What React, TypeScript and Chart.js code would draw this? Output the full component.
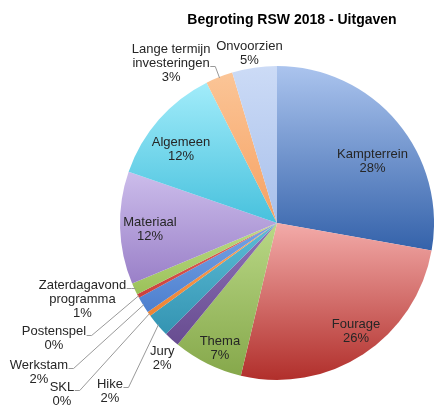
import React, { useEffect, useRef } from "react";
import { Chart, registerables } from "chart.js";

Chart.register(...registerables);

// ---- data ----
const chartTitle = "Begroting RSW 2018 - Uitgaven";
const categories = [
  "Kampterrein",
  "Fourage",
  "Thema",
  "Jury",
  "Hike",
  "SKL",
  "Werkstam",
  "Postenspel",
  "Zaterdagavond programma",
  "Materiaal",
  "Algemeen",
  "Lange termijn investeringen",
  "Onvoorzien",
];
const values = [27.8, 25.9, 7.2, 1.6, 2.45, 0.45, 1.7, 0.4, 1.2, 11.6, 12.3, 2.8, 4.6];

// ---- styles ----
const fillTop = [
  "#abc4ee", "#f3aba9", "#b9d886", "#8f73b8", "#5dbdd7", "#f9a35e", "#77a4e6",
  "#e46a66", "#bcdb86", "#ccbdeb", "#a2ecfa", "#fbc597", "#ccdbf6",
];
const fillBottom = [
  "#3462aa", "#b12f2b", "#86a84b", "#674c90", "#3494b2", "#ee8433", "#4d7fce",
  "#cb3f3b", "#9bc159", "#9a80c8", "#47c1dd", "#f6a162", "#a8c0eb",
];
// label placement: angle (deg, clockwise from 12 o'clock) and radius fraction
const labelAngle = [57.0, 144.0, 204.5, 220.3, 224.8, 231.5, 237.9, 242.6, 248.6, 267.1, 307.55, 326.5, 350.8];
const labelRadius = [0.725, 0.856, 0.877, 1.13, 1.51, 1.75, 1.79, 1.6, 1.331, 0.81, 0.771, 1.222, 1.097];
const leaderLine = [-1, -1, -1, -1, 0, 0, 0, 0, 0, -1, -1, 1, -1];

const LABEL_FONT = "13px 'Liberation Sans', Arial, sans-serif";
const TITLE_FONT = "bold 14px 'Liberation Sans', Arial, sans-serif";
const LINE_H = 14;

function wrapText(ctx: CanvasRenderingContext2D, text: string, maxW: number): string[] {
  const words = text.split(" ");
  const out: string[] = [];
  let cur = "";
  for (const w of words) {
    const t = cur ? cur + " " + w : w;
    if (cur && ctx.measureText(t).width > maxW) {
      out.push(cur);
      cur = w;
    } else cur = t;
  }
  if (cur) out.push(cur);
  return out;
}

function sliceFill(c: any) {
  const i = c.dataIndex ?? 0;
  const chart = c.chart;
  const area = chart.chartArea;
  if (!area) return fillTop[i];
  const cy = (area.top + area.bottom) / 2;
  const r = Math.min(area.right - area.left, area.bottom - area.top) / 2;
  const total = values.reduce((a, b) => a + b, 0);
  let before = 0;
  for (let k = 0; k < i; k++) before += values[k];
  const start = -Math.PI / 2 + (before / total) * Math.PI * 2;
  const end = start + (values[i] / total) * Math.PI * 2;
  let minY = cy, maxY = cy;
  for (let k = 0; k <= 60; k++) {
    const a = start + ((end - start) * k) / 60;
    const yy = cy + r * Math.sin(a);
    minY = Math.min(minY, yy);
    maxY = Math.max(maxY, yy);
  }
  if (maxY - minY < 1) maxY = minY + 1;
  const g = chart.ctx.createLinearGradient(0, minY, 0, maxY);
  g.addColorStop(0, fillTop[i]);
  g.addColorStop(1, fillBottom[i]);
  return g;
}

const titlePlugin = {
  id: "excelTitle",
  afterDraw(chart: any) {
    const ctx = chart.ctx as CanvasRenderingContext2D;
    ctx.save();
    ctx.font = TITLE_FONT;
    ctx.fillStyle = "#000000";
    ctx.textAlign = "center";
    ctx.textBaseline = "middle";
    ctx.fillText(chartTitle, 292, 20);
    ctx.restore();
  },
};

const labelPlugin = {
  id: "sliceLabels",
  afterDatasetsDraw(chart: any) {
    const ctx = chart.ctx as CanvasRenderingContext2D;
    const meta = chart.getDatasetMeta(0);
    const total = values.reduce((a, b) => a + b, 0);
    ctx.save();
    ctx.font = LABEL_FONT;
    ctx.textAlign = "center";
    ctx.textBaseline = "middle";
    meta.data.forEach((el: any, i: number) => {
      const p = el.getProps(["x", "y", "outerRadius", "startAngle", "endAngle"], true);
      const lines = wrapText(ctx, categories[i], 95);
      lines.push(Math.round((values[i] / total) * 100) + "%");
      const th = (labelAngle[i] * Math.PI) / 180;
      const px = p.x + labelRadius[i] * p.outerRadius * Math.sin(th);
      const py = p.y - labelRadius[i] * p.outerRadius * Math.cos(th);
      const n = lines.length;
      const ys = lines.map((_, k) => py + (k - (n - 1) / 2) * LINE_H);
      if (leaderLine[i] >= 0) {
        const li = leaderLine[i];
        const w = ctx.measureText(lines[li]).width;
        const sx = px + w / 2 + 0.5;
        const sy = Math.round(ys[li] + 3) + 0.5;
        const mid = (p.startAngle + p.endAngle) / 2;
        const ex = p.x + (p.outerRadius - 1) * Math.cos(mid);
        const ey = p.y + (p.outerRadius - 1) * Math.sin(mid);
        ctx.strokeStyle = "#999999";
        ctx.lineWidth = 1;
        ctx.beginPath();
        ctx.moveTo(sx, sy);
        ctx.lineTo(sx + 5, sy);
        ctx.lineTo(ex, ey);
        ctx.stroke();
      }
      ctx.fillStyle = "#262626";
      lines.forEach((t, k) => ctx.fillText(t, px, ys[k]));
    });
    ctx.restore();
  },
};

export default function App() {
  const ref = useRef<HTMLCanvasElement | null>(null);
  useEffect(() => {
    if (!ref.current) return;
    const chart = new Chart(ref.current, {
      type: "pie",
      data: {
        labels: categories,
        datasets: [
          {
            data: values,
            backgroundColor: sliceFill as any,
            borderWidth: 0,
            hoverOffset: 0,
            offset: 0,
          },
        ],
      },
      options: {
        animation: false,
        responsive: true,
        maintainAspectRatio: false,
        layout: { padding: { left: 120, right: 0, top: 66, bottom: 25 } },
        plugins: {
          legend: { display: false },
          title: { display: false },
          tooltip: { enabled: false },
        },
      },
      plugins: [labelPlugin, titlePlugin],
    });
    return () => chart.destroy();
  }, []);
  return (
    <div style={{ position: "absolute", left: 0, top: 0, width: 434, height: 405, background: "#ffffff" }}>
      <canvas ref={ref} />
    </div>
  );
}
